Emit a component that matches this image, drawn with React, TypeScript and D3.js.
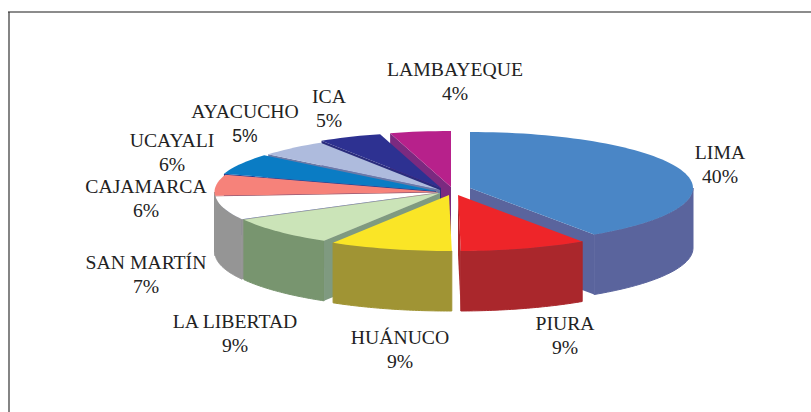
import React from "react";
import * as d3 from "d3";

const categories = ["LIMA","PIURA","HUÁNUCO","LA LIBERTAD","SAN MARTÍN","CAJAMARCA","UCAYALI","AYACUCHO","ICA","LAMBAYEQUE"];
const shares = [40.6,9.2,8.9,8.4,6.8,6.1,6,5,4.6,4.4];
const percentLabels = ["40%","9%","9%","9%","7%","6%","6%","5%","5%","4%"];
const topColors = ["#4a86c6","#ee2529","#fae526","#cbe4b8","#ffffff","#f6827a","#0a7cc4","#aebbdd","#2d3191","#b7218b"];
const wallColors = ["#5a649d","#aa272c","#a09434","#78956f","#959595","#959595","#1d3f96","#6a7aa8","#2a2c7c","#7b2a80"];
const faceColors = ["#5a649d","#aa272c","#a09434","#7f9a80","#959595","#a04a50","#1d3f96","#6a7aa8","#2a2c7c","#7b2a80"];
const faceDepths = [60,60,60,60,60,5,60,60,60,60];
const centerX = [470,458,449,440,438,437.5,436,440,441,451];
const centerY = [188,195,195,193,192.5,192,191,190,188,187];
const labelX = [720,565,400,235,146,146,172,245,329,455];
const labelY = [159,330,344,328,269,193,147,118,103,76];

const RX = 223, RY = 56, DEPTH = 60;
const FONT = "'Liberation Serif','DejaVu Serif',serif";

type Pt = [number, number];
const drawOrder = [9,8,7,6,5,4,3,0,1,2];

export default function App() {
  const arcs = d3.pie<number>().sort(null)(shares);
  const deg = (r: number) => (r * 180) / Math.PI;
  const path = d3.line<Pt>();
  return (
    <svg width={811} height={412} style={{ position: "fixed", left: 0, top: 0, background: "#fff" }}>
      <line x1={8} y1={12} x2={811} y2={12} stroke="#666" strokeWidth={1.5} />
      <line x1={9} y1={12} x2={9} y2={412} stroke="#333" strokeWidth={1.2} />
      {drawOrder.map((i) => {
        const a = arcs[i];
        const cx = centerX[i], cy = centerY[i];
        const pt = (t: number, dz = 0): Pt => [cx + RX * Math.sin(t), cy - RY * Math.cos(t) + dz];
        const n = Math.max(2, Math.ceil(deg(a.endAngle - a.startAngle) / 2));
        const ang = d3.range(n + 1).map((k) => a.startAngle + ((a.endAngle - a.startAngle) * k) / n);
        const top: Pt[] = [[cx, cy], ...ang.map((t) => pt(t))];
        const wallStart = Math.max(a.startAngle, Math.PI / 2);
        const wallEnd = Math.min(a.endAngle, (3 * Math.PI) / 2);
        const wallAng = wallEnd > wallStart ? d3.range(41).map((k) => wallStart + ((wallEnd - wallStart) * k) / 40) : [];
        const wall: Pt[] = [...wallAng.map((t) => pt(t)), ...wallAng.slice().reverse().map((t) => pt(t, DEPTH))];
        const fd = faceDepths[i];
        const face = (t: number): Pt[] => [[cx, cy], pt(t), pt(t, fd), [cx, cy + fd]];
        const showStart = a.startAngle > Math.PI && a.startAngle < 2 * Math.PI;
        const showEnd = a.endAngle > 0 && a.endAngle < Math.PI;
        return (
          <g key={categories[i]}>
            {wall.length > 0 && <path d={path(wall) + "Z"} fill={wallColors[i]} stroke={wallColors[i]} strokeWidth={1} />}
            {showStart && <path d={path(face(a.startAngle)) + "Z"} fill={faceColors[i]} />}
            {showEnd && <path d={path(face(a.endAngle)) + "Z"} fill={faceColors[i]} />}
            <path d={path(top) + "Z"} fill={topColors[i]} />
          </g>
        );
      })}
      {categories.map((c, i) => (
        <g key={c} fill="#222" fontFamily={FONT} fontSize={19.7} textAnchor="middle">
          <text x={labelX[i]} y={labelY[i]}>{c}</text>
          <text
            x={labelX[i]}
            y={labelY[i] + 24}
            fontFamily={c === "AYACUCHO" ? "'Liberation Sans',sans-serif" : FONT}
            fontSize={c === "AYACUCHO" ? 17.5 : 19.7}
          >
            {percentLabels[i]}
          </text>
        </g>
      ))}
    </svg>
  );
}
